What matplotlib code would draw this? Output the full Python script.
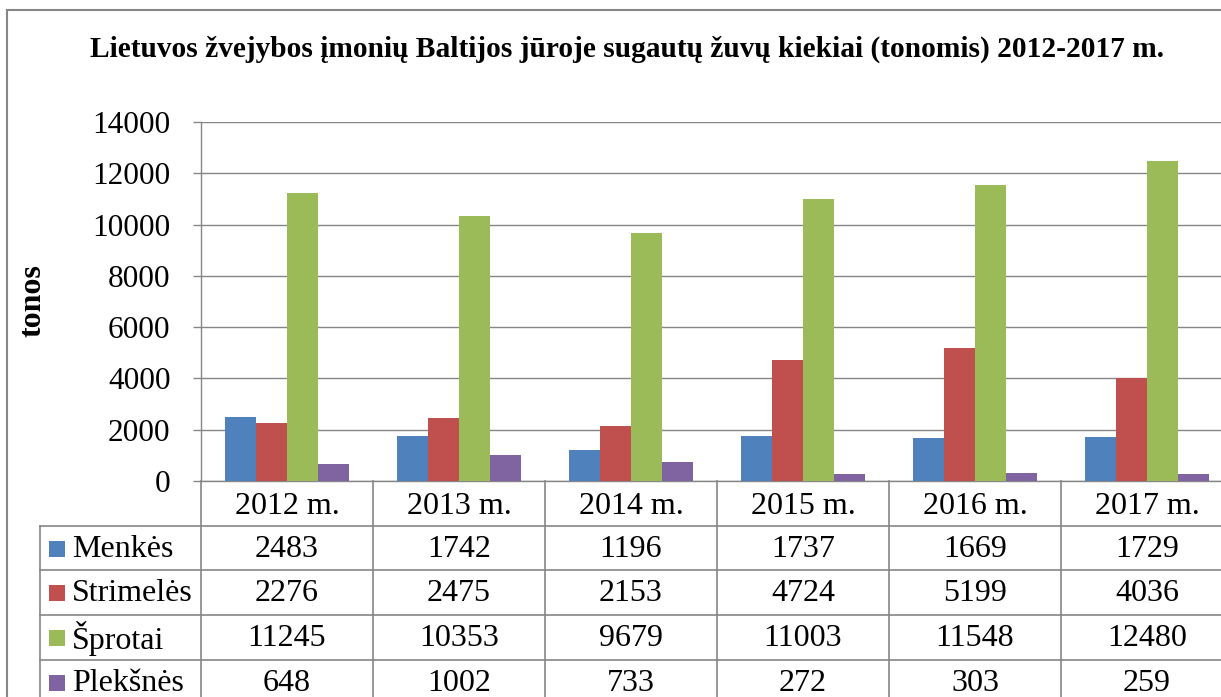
import matplotlib
matplotlib.use("Agg")
import matplotlib.pyplot as plt
from matplotlib.patches import Rectangle

years = ["2012 m.", "2013 m.", "2014 m.", "2015 m.", "2016 m.", "2017 m."]
series_names = ["Menkės", "Strimelės", "Šprotai", "Plekšnės"]
menkes = [2483, 1742, 1196, 1737, 1669, 1729]
strimeles = [2276, 2475, 2153, 4724, 5199, 4036]
sprotai = [11245, 10353, 9679, 11003, 11548, 12480]
pleksnes = [648, 1002, 733, 272, 303, 259]
series_values = [menkes, strimeles, sprotai, pleksnes]
colors = ["#4F81BD", "#C0504D", "#9BBB59", "#8064A2"]
yticks = [0, 2000, 4000, 6000, 8000, 10000, 12000, 14000]

plt.rcParams['font.family'] = ['Liberation Serif', 'DejaVu Serif']

W, H = 1221, 697
fig = plt.figure(figsize=(W / 100, H / 100), dpi=100)
grey = "#868686"

# pixel geometry
ax_left, ax_top, ax_bottom = 201, 122, 481
col_w = 172
n = len(years)
ax_right = ax_left + col_w * n

ax = fig.add_axes([ax_left / W, 1 - ax_bottom / H, (ax_right - ax_left) / W, (ax_bottom - ax_top) / H])
bw = 0.18
for j, (vals, c) in enumerate(zip(series_values, colors)):
    xs = [i + 0.5 + (j - 1.5) * bw for i in range(n)]
    ax.bar(xs, vals, width=bw, color=c, zorder=3, linewidth=0)
ax.set_xlim(0, n)
ax.set_ylim(0, 14000)
ax.set_yticks(yticks)
ax.set_yticklabels([str(v) for v in yticks], fontsize=22.5)
ax.set_xticks([])
ax.tick_params(axis='y', length=6, color=grey, width=1, pad=16)
ax.grid(axis='y', color=grey, linewidth=1, zorder=0)
for s in ['top', 'right']:
    ax.spines[s].set_visible(False)
for s in ['left', 'bottom']:
    ax.spines[s].set_color(grey)
    ax.spines[s].set_linewidth(1)

# overlay for table, border and title
ov = fig.add_axes([0, 0, 1, 1], zorder=5)
ov.set_xlim(0, W)
ov.set_ylim(H, 0)
ov.axis('off')
ov.patch.set_alpha(0)

# outer border
ov.plot([7, 7], [10, H + 5], color=grey, lw=1.5)
ov.plot([7, W + 5], [10, 10], color=grey, lw=1.5)

ov.text(627, 49, "Lietuvos žvejybos įmonių Baltijos jūroje sugautų žuvų kiekiai (tonomis) 2012-2017 m.",
        ha='center', va='center', fontsize=21.2, fontweight='bold')
ov.text(33, 301, "tonos", ha='center', va='center', rotation=90, fontsize=23, fontweight='bold')

tbl_left = 40
row_lines = [526, 570, 615, 660]
row_h = 44.5
for k in range(n + 1):
    x = ax_left + col_w * k
    ov.plot([x, x], [ax_bottom, H + 5], color=grey, lw=1.2)
ov.plot([tbl_left, tbl_left], [row_lines[0], H + 5], color=grey, lw=1.2)
for y in row_lines:
    ov.plot([tbl_left, ax_right], [y, y], color=grey, lw=1.2)

for i, yr in enumerate(years):
    ov.text(ax_left + col_w * (i + 0.5), 506, yr, ha='center', va='center', fontsize=23)

for r, (name, vals, c) in enumerate(zip(series_names, series_values, colors)):
    yc = row_lines[r] + row_h / 2 + 1
    ov.add_patch(Rectangle((49, yc - 8), 16, 16, color=c, lw=0))
    ov.text(72, yc, name, ha='left', va='center', fontsize=23)
    for i, v in enumerate(vals):
        ov.text(ax_left + col_w * (i + 0.5), yc, str(v), ha='center', va='center', fontsize=23)

fig.savefig("out.png", dpi=100)
